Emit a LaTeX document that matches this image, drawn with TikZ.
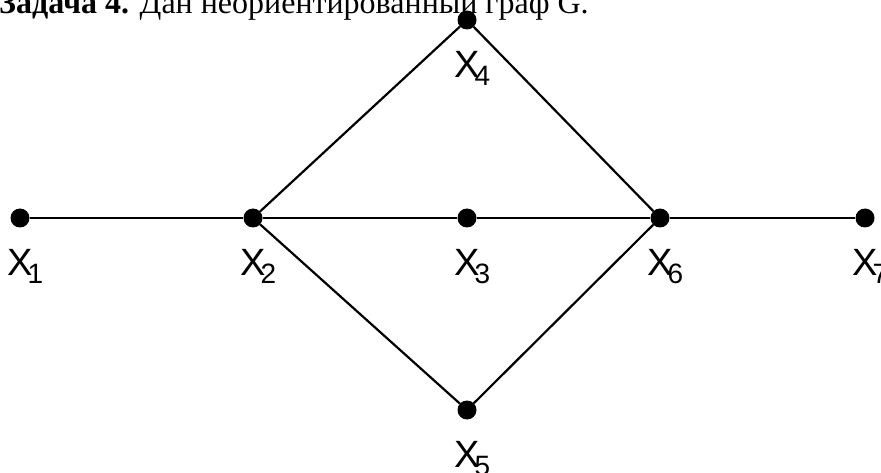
\documentclass[tikz,border=0pt]{standalone}
\usepackage{fontspec}
\setmainfont{Liberation Serif}
\newfontfamily\labfont{Liberation Sans}
\usetikzlibrary{positioning}
\tikzset{
  vertex/.style={circle, fill=black, minimum size=19pt, inner sep=0pt},
  edge/.style={line width=2.2pt},
  vlabel/.style={font=\labfont\fontsize{38}{38}\selectfont, inner sep=0pt}
}
\newcommand{\xsub}[1]{X\rlap{\kern-5pt\raisebox{-8pt}{\fontsize{28}{28}\selectfont #1}}}

\begin{document}
\begin{tikzpicture}[x=1pt, y=-1pt]
\clip (0,0) rectangle (881,473);
% heading (cut at the top)
\node[anchor=base west, inner sep=0pt, font=\fontsize{32}{32}\selectfont] (title) at (-1,14) {\textbf{Задача 4.} Дан неориентированный граф G.};
% vertices
\node[vertex] (x1) at (20,218) {};
\node[vertex] (x2) at (253,218) {};
\node[vertex] (x3) at (467,218) {};
\node[vertex] (x4) at (467,20) {};
\node[vertex] (x5) at (467,410) {};
\node[vertex] (x6) at (660,218) {};
\node[vertex] (x7) at (865,218) {};
% labels
\foreach \i in {1,...,7}
  \node[vlabel, below=21pt of x\i] (l\i) {\xsub{\i}};
% edges
\draw[edge] (x1) -- (x2) -- (x3) -- (x6) -- (x7);
\draw[edge] (x2) -- (x4) -- (x6);
\draw[edge] (x2) -- (x5) -- (x6);
\end{tikzpicture}
\end{document}
